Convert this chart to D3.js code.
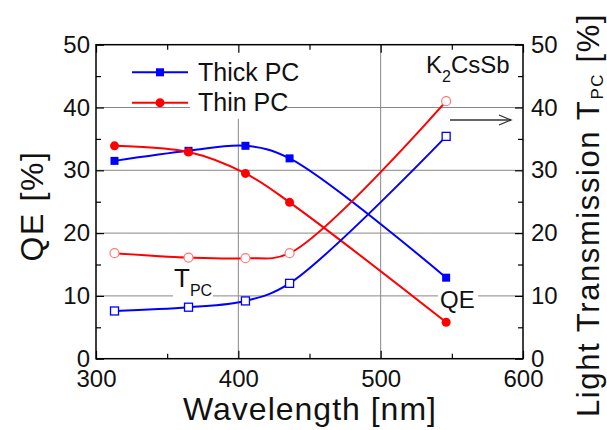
<!DOCTYPE html>
<html>
<head>
<meta charset="utf-8">
<script src="https://cdn.jsdelivr.net/npm/d3@7"></script>
<style>
  body { margin: 0; background: white; }
  text { font-family: "Liberation Sans", Arial, sans-serif; fill: #111; }
</style>
</head>
<body>
<div id="chart"></div>
<script>
/* global d3 */

// wavelengths [nm]
var wavelengths = [313, 365, 405, 436, 546];
// QE [%]
var thickQE = [31.5, 33.1, 33.9, 31.9, 12.9];
var thinQE = [33.9, 32.9, 29.5, 24.9, 5.8];
// light transmission T_PC [%]
var thickT = [7.6, 8.2, 9.2, 12.0, 35.4];
var thinT = [16.8, 16.1, 16.0, 16.8, 41.0];

var xTicks = [300, 400, 500, 600];
var xMinor = [350, 450, 550];
var yTicks = [0, 10, 20, 30, 40, 50];
var yMinor = [5, 15, 25, 35, 45];

var WIDTH = 607;
var HEIGHT = 430;
// plot frame (note: "top" is reserved on window, so use other names)
var plotL = 96, plotR = 523, plotT = 44.7, plotB = 358.7;

var svg = d3.select('#chart')
  .append('svg')
  .attr('width', WIDTH)
  .attr('height', HEIGHT)
  .style('background', 'white');

var x = d3.scaleLinear().domain([300, 600]).range([plotL, plotR]);
var y = d3.scaleLinear().domain([0, 50]).range([plotB, plotT]);
var y2 = d3.scaleLinear().domain([0, 50]).range([plotB, plotT]);

// grid
svg.append('g').selectAll('line')
  .data(yTicks.slice(1, -1))
  .enter().append('line')
  .attr('x1', plotL).attr('x2', plotR)
  .attr('y1', function(d) { return y(d); })
  .attr('y2', function(d) { return y(d); })
  .attr('stroke', '#888').attr('stroke-width', 1);

svg.append('g').selectAll('line')
  .data(xTicks.slice(1, -1))
  .enter().append('line')
  .attr('y1', plotT).attr('y2', plotB)
  .attr('x1', function(d) { return x(d); })
  .attr('x2', function(d) { return x(d); })
  .attr('stroke', '#888').attr('stroke-width', 1);

// white boxes behind labels (they hide the grid)
svg.append('rect').attr('x', 190).attr('y', plotT + 1).attr('width', 97).attr('height', 73).attr('fill', 'white');
svg.append('rect').attr('x', 173).attr('y', 266).attr('width', 40).attr('height', 34).attr('fill', 'white');
svg.append('rect').attr('x', 438).attr('y', 289).attr('width', 40).attr('height', 21).attr('fill', 'white');

function styleAxis(g) {
  g.select('.domain').remove();
  g.selectAll('line').attr('stroke', '#000').attr('stroke-width', 1.2);
  g.selectAll('text').attr('font-size', '24px').attr('fill', '#111')
    .attr('font-family', '"Liberation Sans", Arial, sans-serif');
}

// major + minor ticks, pointing inwards
svg.append('g').attr('transform', 'translate(0,' + plotB + ')')
  .call(d3.axisBottom(x).tickValues(xTicks).tickSize(-8).tickPadding(11).tickFormat(d3.format('d')))
  .call(styleAxis);
svg.append('g').attr('transform', 'translate(0,' + plotB + ')')
  .call(d3.axisBottom(x).tickValues(xMinor).tickSize(-5).tickFormat(''))
  .call(styleAxis);
svg.append('g').attr('transform', 'translate(0,' + plotT + ')')
  .call(d3.axisTop(x).tickValues(xTicks).tickSize(-8).tickFormat(''))
  .call(styleAxis);
svg.append('g').attr('transform', 'translate(0,' + plotT + ')')
  .call(d3.axisTop(x).tickValues(xMinor).tickSize(-5).tickFormat(''))
  .call(styleAxis);

svg.append('g').attr('transform', 'translate(' + plotL + ',0)')
  .call(d3.axisLeft(y).tickValues(yTicks).tickSize(-8).tickPadding(6))
  .call(styleAxis);
svg.append('g').attr('transform', 'translate(' + plotL + ',0)')
  .call(d3.axisLeft(y).tickValues(yMinor).tickSize(-5).tickFormat(''))
  .call(styleAxis);
svg.append('g').attr('transform', 'translate(' + plotR + ',0)')
  .call(d3.axisRight(y2).tickValues(yTicks).tickSize(-8).tickPadding(8))
  .call(styleAxis);
svg.append('g').attr('transform', 'translate(' + plotR + ',0)')
  .call(d3.axisRight(y2).tickValues(yMinor).tickSize(-5).tickFormat(''))
  .call(styleAxis);

// frame
svg.append('rect')
  .attr('x', plotL).attr('y', plotT)
  .attr('width', plotR - plotL).attr('height', plotB - plotT)
  .attr('fill', 'none').attr('stroke', '#000').attr('stroke-width', 1.5);

// curves
var series = [
  { values: thickQE, scale: y, color: '#0000ff', marker: 'square', open: false },
  { values: thinQE, scale: y, color: '#ff0000', marker: 'circle', open: false },
  { values: thickT, scale: y2, color: '#0000ff', marker: 'square', open: true },
  { values: thinT, scale: y2, color: '#ff0000', marker: 'circle', open: true }
];

series.forEach(function(s) {
  var pts = wavelengths.map(function(w, i) { return [w, s.values[i]]; });
  var line = d3.line()
    .x(function(d) { return x(d[0]); })
    .y(function(d) { return s.scale(d[1]); })
    .curve(d3.curveCatmullRom.alpha(0.5));

  svg.append('path').datum(pts)
    .attr('d', line)
    .attr('fill', 'none')
    .attr('stroke', s.color)
    .attr('stroke-width', 2);

  var stroke = s.open && s.marker === 'circle' ? '#ff7a7a' : s.color;
  if (s.marker === 'square') {
    svg.append('g').selectAll('rect').data(pts).enter().append('rect')
      .attr('x', function(d) { return x(d[0]) - 4; })
      .attr('y', function(d) { return s.scale(d[1]) - 4; })
      .attr('width', 8).attr('height', 8)
      .attr('fill', s.open ? 'white' : s.color)
      .attr('stroke', stroke).attr('stroke-width', s.open ? 1.3 : 0);
  } else {
    svg.append('g').selectAll('circle').data(pts).enter().append('circle')
      .attr('cx', function(d) { return x(d[0]); })
      .attr('cy', function(d) { return s.scale(d[1]); })
      .attr('r', 4.5)
      .attr('fill', s.open ? 'white' : s.color)
      .attr('stroke', stroke).attr('stroke-width', s.open ? 1.2 : 0);
  }
});

// legend
var legendItems = [
  { label: 'Thick PC', color: '#0000ff', marker: 'square', y: 72.3 },
  { label: 'Thin PC', color: '#ff0000', marker: 'circle', y: 102.7 }
];
legendItems.forEach(function(l) {
  svg.append('line')
    .attr('x1', 132).attr('x2', 188)
    .attr('y1', l.y).attr('y2', l.y)
    .attr('stroke', l.color).attr('stroke-width', 2);
  if (l.marker === 'square') {
    svg.append('rect').attr('x', 156).attr('y', l.y - 4)
      .attr('width', 8).attr('height', 8).attr('fill', l.color);
  } else {
    svg.append('circle').attr('cx', 160).attr('cy', l.y).attr('r', 4.5).attr('fill', l.color);
  }
  svg.append('text')
    .attr('x', 198).attr('y', l.y).attr('dy', '0.35em')
    .attr('font-size', '25px')
    .text(l.label);
});

// annotations
var k = svg.append('text').attr('x', 426).attr('y', 73.3).attr('font-size', '24px');
k.append('tspan').text('K');
k.append('tspan').attr('dy', 9).attr('font-size', '16px').text('2');
k.append('tspan').attr('dy', -9).text('CsSb');

var t = svg.append('text').attr('x', 174).attr('y', 286.7).attr('font-size', '26px');
t.append('tspan').text('T');
t.append('tspan').attr('dy', 9).attr('font-size', '16px').text('PC');

svg.append('text').attr('x', 440).attr('y', 308.3).attr('font-size', '24px').text('QE');

// arrow towards the right axis
svg.append('line').attr('x1', 450).attr('x2', 511).attr('y1', 120).attr('y2', 120)
  .attr('stroke', '#333').attr('stroke-width', 1.3);
svg.append('path').attr('d', 'M499,115L511,120L499,125')
  .attr('fill', 'none').attr('stroke', '#333').attr('stroke-width', 1.3);

// axis titles
svg.append('text')
  .attr('x', 310).attr('y', 420)
  .attr('text-anchor', 'middle')
  .attr('font-size', '32px')
  .attr('letter-spacing', '1px')
  .text('Wavelength [nm]');

svg.append('text')
  .attr('transform', 'translate(43,206) rotate(-90)')
  .attr('text-anchor', 'middle')
  .attr('font-size', '32px')
  .attr('letter-spacing', '1.6px')
  .text('QE [%]');

var rt = svg.append('text')
  .attr('transform', 'translate(599,215) rotate(-90)')
  .attr('text-anchor', 'middle')
  .attr('font-size', '31px')
  .attr('letter-spacing', '1.6px');
rt.append('tspan').text('Light Transmission T');
rt.append('tspan').attr('dy', 4).attr('font-size', '17px').text('PC');
rt.append('tspan').attr('dy', -4).text(' [%]');
</script>
</body>
</html>
